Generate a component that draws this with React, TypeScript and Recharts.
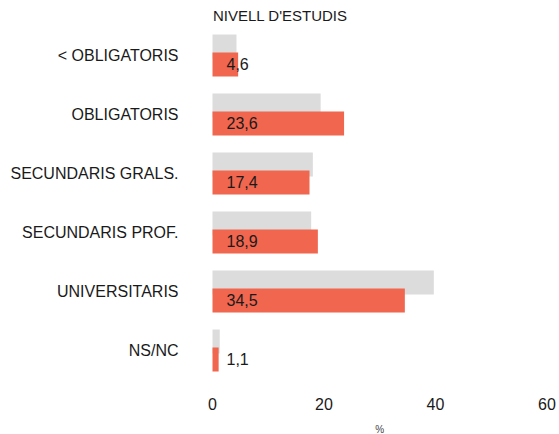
import { Bar, BarChart, LabelList, XAxis, YAxis } from 'recharts';

const categories = [
  '< OBLIGATORIS',
  'OBLIGATORIS',
  'SECUNDARIS GRALS.',
  'SECUNDARIS PROF.',
  'UNIVERSITARIS',
  'NS/NC',
];
const reference = [4.3, 19.4, 18.0, 17.7, 39.7, 1.3];
const values = [4.6, 23.6, 17.4, 18.9, 34.5, 1.1];
const xTicks = [0, 20, 40, 60];

const data = categories.map((name, i) => ({ name, base: reference[i], value: values[i] }));

const font = '"Liberation Sans", Arial, sans-serif';
const fmt = (v: number) => v.toFixed(1).replace('.', ',');

function ValueLabel(props: any) {
  const { x, y, height, value } = props;
  return (
    <text x={x + 14} y={y + height / 2} dy="0.36em" fill="#1a1a1a" fontSize={16} fontFamily={font}>
      {fmt(value)}
    </text>
  );
}

export default function App() {
  return (
    <div style={{ position: 'absolute', left: 0, top: 0, width: 559, height: 434, background: '#fff' }}>
      <div
        style={{
          position: 'absolute',
          left: 213,
          top: 6,
          fontFamily: font,
          fontSize: 15,
          color: '#1a1a1a',
          lineHeight: '20px',
        }}
      >
        NIVELL D'ESTUDIS
      </div>
      <BarChart
        width={559}
        height={434}
        data={data}
        layout="vertical"
        margin={{ top: 25.5, right: 12, bottom: 0, left: 0 }}
        barSize={24}
        barGap={-6}
      >
        <XAxis
          type="number"
          domain={[0, 60]}
          ticks={xTicks}
          axisLine={false}
          tickLine={false}
          tickSize={0}
          tickMargin={19}
          height={54.5}
          tick={{ fill: '#1a1a1a', fontSize: 16, fontFamily: font }}
          label={{ value: '%', position: 'insideBottom', offset: 1, fontSize: 10, fill: '#444', fontFamily: font }}
        />
        <YAxis
          type="category"
          dataKey="name"
          width={212.5}
          axisLine={false}
          tickLine={false}
          tickSize={0}
          tickMargin={34}
          tick={{ fill: '#1a1a1a', fontSize: 16, fontFamily: font }}
        />
        <Bar dataKey="base" fill="#dcdcdc" isAnimationActive={false} />
        <Bar dataKey="value" fill="#f0664f" isAnimationActive={false}>
          <LabelList dataKey="value" content={<ValueLabel />} />
        </Bar>
      </BarChart>
    </div>
  );
}
